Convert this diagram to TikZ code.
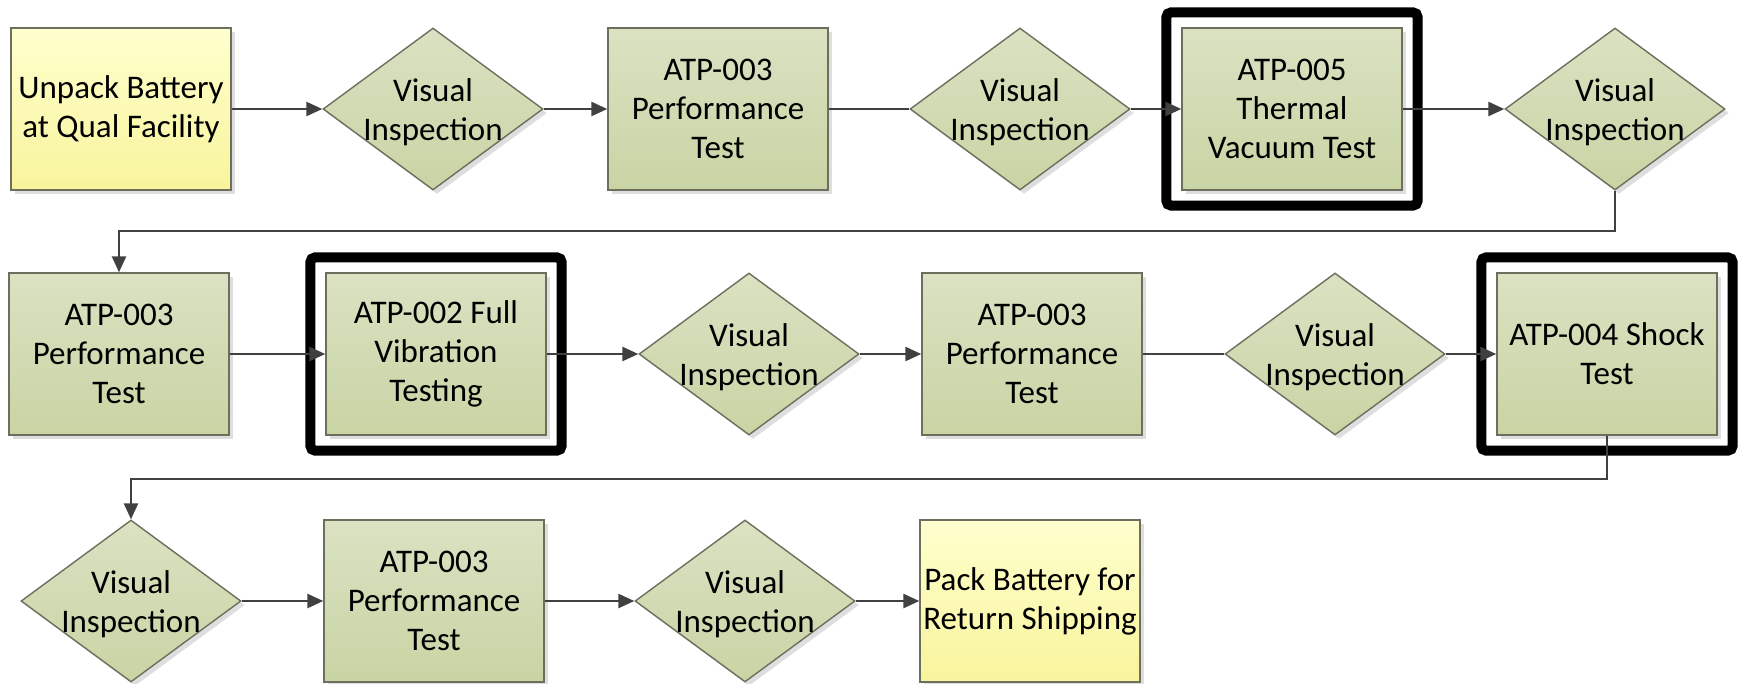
\documentclass[tikz,border=0pt]{standalone}
\usepackage{fontspec}
\setmainfont{Carlito}
\usetikzlibrary{shapes.geometric,arrows.meta,shadows,fit}

\definecolor{grtop}{HTML}{DAE2C2}
\definecolor{grbot}{HTML}{C9D4A4}
\definecolor{yetop}{HTML}{FFFFCE}
\definecolor{yebot}{HTML}{F8F49C}
\definecolor{edgegray}{HTML}{6E6E5E}
\definecolor{linegray}{HTML}{404040}

\tikzset{
 base/.style={draw=edgegray, line width=1.4pt, inner sep=0pt,
   minimum width=220pt, minimum height=162pt, align=center,
   font=\fontsize{33}{39}\selectfont,
   drop shadow={shadow xshift=4pt, shadow yshift=-4pt, fill=black!13, opacity=1}},
 gbox/.style={base, rectangle, top color=grtop, bottom color=grbot},
 ybox/.style={base, rectangle, top color=yetop, bottom color=yebot},
 gdia/.style={base, diamond, top color=grtop, bottom color=grbot,
   label={[font=\fontsize{33}{39}\selectfont, align=center, yshift=-3pt]center:{Visual\\Inspection}}},
 frame/.style={draw=black, line width=10pt, rounded corners=5pt, inner sep=15pt},
 conn/.style={draw=linegray, line width=2.6pt},
 arr/.style={conn, -{Triangle[length=16pt,width=14pt]}},
}

\begin{document}
\begin{tikzpicture}[x=1pt,y=-1pt]
\useasboundingbox (0,0) rectangle (1739,683);

% Row 1
\node[ybox] (unpack) at (121,109) {Unpack Battery\\at Qual Facility};
\node[gdia] (v1) at (433,109) {};
\node[gbox] (p1) at (718,109) {ATP-003\\Performance\\Test};
\node[gdia] (v2) at (1020,109) {};
\node[gbox] (t5) at (1292,109) {ATP-005\\Thermal\\Vacuum Test};
\node[gdia] (v3) at (1615,109) {};

% Row 2
\node[gbox] (p2) at (119,354) {ATP-003\\Performance\\Test};
\node[gbox] (t2) at (436,354) {ATP-002 Full\\Vibration\\Testing};
\node[gdia] (v4) at (749,354) {};
\node[gbox] (p3) at (1032,354) {ATP-003\\Performance\\Test};
\node[gdia] (v5) at (1335,354) {};
\node[gbox] (t4) at (1607,354) {ATP-004 Shock\\Test};

% Row 3
\node[gdia] (v6) at (131,601) {};
\node[gbox] (p4) at (434,601) {ATP-003\\Performance\\Test};
\node[gdia] (v7) at (745,601) {};
\node[ybox] (pack) at (1030,601) {Pack Battery for\\Return Shipping};

% Highlight frames
\node[frame, fit=(t5)] (f5) {};
\node[frame, fit=(t2)] (f2) {};
\node[frame, fit=(t4)] (f4) {};

% Elbow rows
\coordinate (r1) at (0,231);
\coordinate (r2) at (0,479);

% Connectors
\draw[arr] (unpack.east) -- (v1.west);
\draw[arr] (v1.east) -- (p1.west);
\draw[conn] (p1.east) -- (v2.west);
\draw[arr] (v2.east) -- (t5.west);
\draw[arr] (t5.east) -- (v3.west);
\draw[arr] (v3.south) -- (v3.south |- r1) -| (p2.north);

\draw[arr] (p2.east) -- (t2.west);
\draw[arr] (t2.east) -- (v4.west);
\draw[arr] (v4.east) -- (p3.west);
\draw[conn] (p3.east) -- (v5.west);
\draw[arr] (v5.east) -- (t4.west);
\draw[arr] (t4.south) -- (t4.south |- r2) -| (v6.north);

\draw[arr] (v6.east) -- (p4.west);
\draw[arr] (p4.east) -- (v7.west);
\draw[arr] (v7.east) -- (pack.west);
\end{tikzpicture}
\end{document}
